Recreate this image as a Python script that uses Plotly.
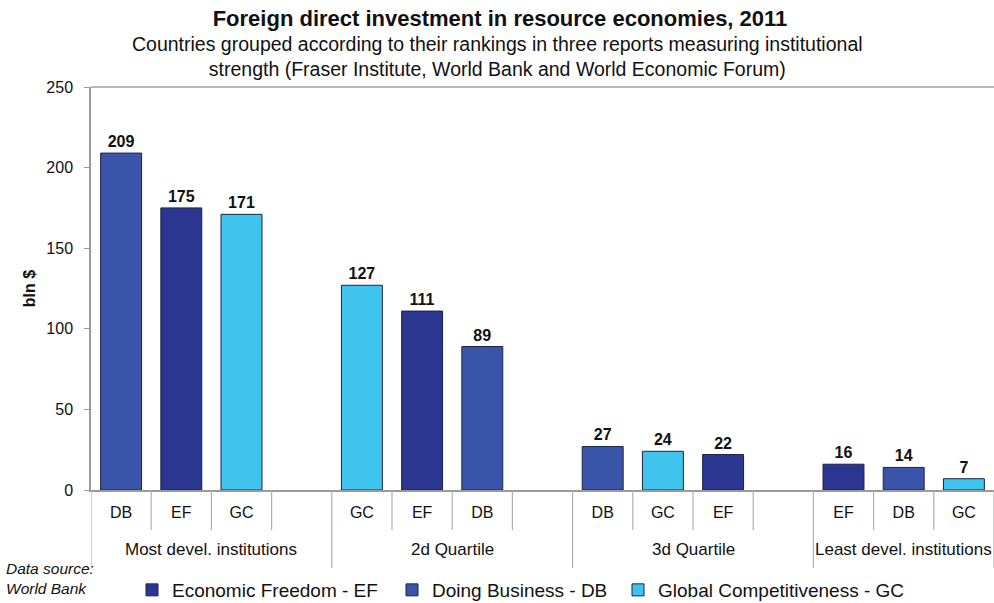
import plotly.graph_objects as go

# ---- data ----
groups = ["Most devel. institutions", "2d Quartile", "3d Quartile", "Least devel. institutions"]
series_names = ["Economic Freedom - EF", "Doing Business - DB", "Global Competitiveness - GC"]
series_abbr = ["EF", "DB", "GC"]
EF = [175, 111, 22, 16]
DB = [209, 89, 27, 14]
GC = [171, 127, 24, 7]
y_ticks = [0, 50, 100, 150, 200, 250]

values = {"EF": EF, "DB": DB, "GC": GC}
colors = {"EF": "#2b3691", "DB": "#3a54aa", "GC": "#3fc4ee"}

FONT = "Liberation Sans, Arial, sans-serif"

# slot categories: within each group, bars sorted by value (desc), plus an empty slot between groups
categories = []
ticktext = []
group_bounds = []
for gi, g in enumerate(groups):
    start = len(categories)
    order = sorted(series_abbr, key=lambda a: -values[a][gi])
    for a in order:
        categories.append(f"{g}|{a}")
        ticktext.append(a)
    if gi < len(groups) - 1:
        categories.append(f"{g}|_")
        ticktext.append("")
    group_bounds.append((start, len(categories) - 1))

W, H = 994, 603
legend_ids = ["legend", "legend2", "legend3"]
legend_x = [132, 392, 618]

fig = go.Figure()
for name, a, lid in zip(series_names, series_abbr, legend_ids):
    fig.add_trace(go.Bar(
        name=name,
        x=[f"{g}|{a}" for g in groups],
        y=values[a],
        marker=dict(color=colors[a], line=dict(color="#1c2347", width=1)),
        text=[f"<b>{v}</b>" for v in values[a]],
        textposition="outside",
        textfont=dict(family=FONT, size=16, color="#111"),
        cliponaxis=False,
        width=0.68,
        legend=lid,
    ))

plot_left, plot_top, plot_bottom = 91, 87, 490
plot_h = plot_bottom - plot_top

def py(px):
    return (plot_bottom - px) / plot_h

shapes = []
n = len(categories)
group_edges = set([-0.5] + [e + 0.5 for _, e in group_bounds])
for k in range(n + 1):
    xb = k - 0.5
    long = xb in group_edges
    shapes.append(dict(type="line", xref="x", yref="paper", x0=xb, x1=xb,
                       y0=0, y1=py(568 if long else 530),
                       line=dict(color="#b0b0b0", width=1.2)))
shapes.append(dict(type="line", xref="paper", yref="paper", x0=0, x1=1, y0=1, y1=1,
                   line=dict(color="#a0a0a0", width=1.5)))

annotations = []
for (s, e), g in zip(group_bounds, groups):
    annotations.append(dict(x=(s + e) / 2, xref="x", yref="paper",
                            y=py(549), yanchor="middle", text=g, showarrow=False,
                            font=dict(family=FONT, size=17, color="#111")))
annotations.append(dict(xref="paper", yref="paper", x=-(plot_left - 4) / (W - plot_left), xanchor="left",
                        y=py(578), yanchor="middle",
                        text="<i>Data source:<br>World Bank</i>", align="left", showarrow=False,
                        font=dict(family=FONT, size=15.5, color="#111")))
annotations.append(dict(xref="paper", yref="paper", x=(497 - plot_left) / (W - plot_left), xanchor="center",
                        y=py(56), yanchor="middle",
                        text="Countries grouped according to their rankings in three reports measuring institutional<br>strength (Fraser Institute, World Bank and World Economic Forum)",
                        showarrow=False, font=dict(family=FONT, size=19.5, color="#111")))

legend_common = dict(orientation="h", xref="container", yref="container",
                     xanchor="left", y=1 - 590 / H, yanchor="middle",
                     font=dict(family=FONT, size=19, color="#111"), itemwidth=30,
                     bgcolor="rgba(0,0,0,0)")
legends = {lid: dict(legend_common, x=lx / W) for lid, lx in zip(legend_ids, legend_x)}

fig.update_layout(
    width=W, height=H,
    margin=dict(l=plot_left, r=0, t=plot_top, b=H - plot_bottom, autoexpand=False),
    paper_bgcolor="white", plot_bgcolor="white",
    barmode="overlay",
    title=dict(text="<b>Foreign direct investment in resource economies, 2011</b>",
               x=500 / W, xanchor="center", y=1 - 18 / H, yanchor="middle",
               font=dict(family=FONT, size=22, color="#111")),
    font=dict(family=FONT, size=16, color="#111"),
    xaxis=dict(type="category", categoryorder="array", categoryarray=categories,
               tickmode="array", tickvals=categories, ticktext=ticktext,
               range=[-0.5, n - 0.5], showgrid=False, ticks="", automargin=False,
               showline=True, linecolor="#9a9a9a", linewidth=1.5,
               tickfont=dict(family=FONT, size=16, color="#111"),
               ticklabelstandoff=7),
    yaxis=dict(range=[0, 250], tickvals=y_ticks, showgrid=False, zeroline=False, automargin=False,
               showline=True, linecolor="#9a9a9a", linewidth=1.5,
               ticks="outside", ticklen=5, tickcolor="#9a9a9a",
               tickfont=dict(family=FONT, size=16, color="#111"),
               ticklabelstandoff=8,
               title=dict(text="<b>bln $</b>", font=dict(family=FONT, size=16, color="#111"), standoff=7)),
    shapes=shapes,
    annotations=annotations,
    showlegend=True,
    **legends,
)

fig.write_html("out.html", config={"displayModeBar": False},
               post_script="document.body.style.margin='0';document.body.style.overflow='hidden';")
